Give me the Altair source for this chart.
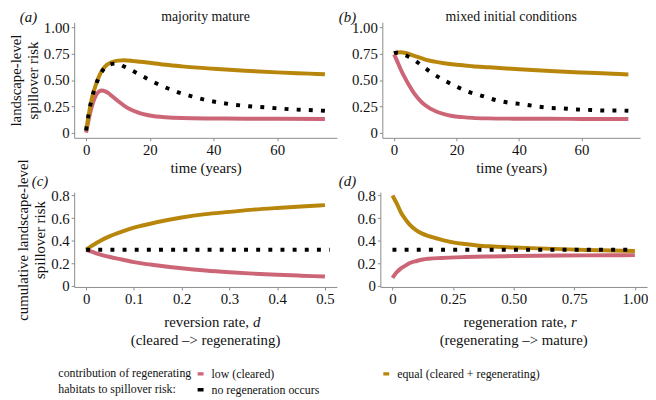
import altair as alt
import pandas as pd

FONT = "Liberation Serif"
PINK = "#CC6677"
GOLD = "#B8860B"
BLACK = "#000000"
TXT = "#111111"

SERIES = ["low (cleared)", "equal (cleared + regenerating)", "no regeneration occurs"]

# ---------- panel (a): majority mature ----------
a_t_gold = [0, 1, 2, 3, 4, 5, 6, 8, 10, 12, 15, 20, 25, 30, 40, 50, 60, 70, 75]
a_gold = [0.02, 0.20, 0.35, 0.45, 0.53, 0.59, 0.63, 0.67, 0.685, 0.688, 0.68, 0.665,
          0.645, 0.63, 0.607, 0.588, 0.573, 0.561, 0.555]
a_t_pink = [0, 1, 2, 3, 4, 5, 6, 7, 8, 10, 12, 14, 16, 18, 20, 25, 30, 40, 50, 60, 75]
a_pink = [0.0, 0.15, 0.27, 0.35, 0.39, 0.40, 0.392, 0.375, 0.35, 0.30, 0.255, 0.22,
          0.195, 0.175, 0.162, 0.145, 0.138, 0.134, 0.132, 0.131, 0.13]
a_t_black = [0, 0.7, 1.6, 2.8, 4.4, 7.6, 9.5, 12.2, 16.3, 20.3, 24.5, 28.7, 33.2, 37.6,
             42.1, 46.6, 51.2, 56, 60.5, 65.1, 69.7, 75]
a_black = [0.02, 0.16, 0.30, 0.43, 0.55, 0.65, 0.657, 0.625, 0.56, 0.495, 0.435, 0.385,
           0.345, 0.31, 0.285, 0.265, 0.25, 0.24, 0.23, 0.22, 0.215, 0.207]

# ---------- panel (b): mixed initial conditions ----------
b_t_gold = [0, 2, 4, 6, 8, 10, 13, 16, 20, 25, 30, 40, 50, 60, 70, 75]
b_gold = [0.755, 0.765, 0.755, 0.735, 0.715, 0.695, 0.675, 0.66, 0.645, 0.632, 0.622,
          0.603, 0.586, 0.572, 0.56, 0.553]
b_t_pink = [0, 1, 2, 3.5, 5, 6.5, 8.5, 10, 13.5, 16, 18.6, 22, 25, 30, 40, 50, 60, 75]
b_pink = [0.745, 0.68, 0.61, 0.52, 0.44, 0.37, 0.30, 0.26, 0.20, 0.175, 0.158, 0.147,
          0.14, 0.135, 0.132, 0.131, 0.13, 0.13]
b_t_black = [0, 0.7, 4.8, 8.6, 12.2, 15.9, 19.8, 24.1, 28.1, 32.4, 36.6, 41.1, 45.5,
             49.9, 54.2, 58.6, 63.1, 67.5, 71.9, 75]
b_black = [0.755, 0.76, 0.72, 0.645, 0.565, 0.50, 0.44, 0.385, 0.35, 0.31, 0.285, 0.27,
           0.25, 0.235, 0.23, 0.22, 0.215, 0.21, 0.21, 0.207]

# ---------- panel (c): reversion rate d ----------
c_d = [0, 0.01, 0.02, 0.03, 0.05, 0.075, 0.1, 0.15, 0.2, 0.25, 0.3, 0.35, 0.4, 0.45, 0.5]
c_gold = [0.32, 0.35, 0.375, 0.40, 0.44, 0.48, 0.515, 0.565, 0.605, 0.635, 0.655, 0.675,
          0.69, 0.703, 0.715]
c_pink = [0.32, 0.305, 0.29, 0.277, 0.255, 0.233, 0.21, 0.18, 0.155, 0.135, 0.12, 0.108,
          0.098, 0.09, 0.082]
c_d_black = [0, 0.51]
c_black = [0.32, 0.32]

# ---------- panel (d): regeneration rate r ----------
d_r_gold = [0, 0.01, 0.02, 0.035, 0.05, 0.07, 0.1, 0.125, 0.15, 0.2, 0.25, 0.3, 0.35,
            0.4, 0.5, 0.6, 0.7, 0.8, 0.9, 1.0]
d_gold = [0.80, 0.76, 0.72, 0.65, 0.60, 0.545, 0.49, 0.46, 0.44, 0.41, 0.385, 0.37,
          0.358, 0.35, 0.34, 0.332, 0.325, 0.318, 0.313, 0.308]
d_r_pink = [0, 0.01, 0.02, 0.035, 0.05, 0.07, 0.1, 0.125, 0.15, 0.2, 0.3, 0.4, 0.5,
            0.6, 0.7, 0.8, 0.9, 1.0]
d_pink = [0.07, 0.10, 0.125, 0.155, 0.175, 0.2, 0.22, 0.233, 0.24, 0.247, 0.255, 0.26,
          0.264, 0.267, 0.269, 0.27, 0.271, 0.272]
d_r_black = [0, 1.0]
d_black = [0.32, 0.32]

# tick values
time_ticks = [0, 20, 40, 60]
top_y_ticks = [0, 0.25, 0.5, 0.75, 1.0]
bot_y_ticks = [0, 0.2, 0.4, 0.6, 0.8]
c_x_ticks = [0, 0.1, 0.2, 0.3, 0.4, 0.5]
d_x_ticks = [0, 0.25, 0.5, 0.75, 1.0]

TOP_W_A, TOP_W_B, TOP_H = 266, 261, 117
BOT_W_C, BOT_W_D, BOT_H = 266, 270, 96


def frame(xs, ys, name):
    return pd.DataFrame({"x": xs, "y": ys, "series": name})


color_scale = alt.Scale(domain=SERIES, range=[PINK, GOLD, BLACK])
legend = alt.Legend(
    orient="none", legendX=-16, legendY=350, columns=2, direction="horizontal",
    title=["contribution of regenerating", "habitats to spillover risk:"],
    titleOrient="left", titleAnchor="start", titleBaseline="top",
    titleFont=FONT, titleFontSize=12, titleFontWeight="normal", titleColor=TXT,
    titleLineHeight=16, titlePadding=3, titleLimit=300,
    labelFont=FONT, labelFontSize=12, labelColor=TXT, labelLimit=300,
    symbolType="stroke", symbolStrokeWidth=3.5, symbolSize=36, symbolDash=[1, 0],
    columnPadding=57, rowPadding=2, labelOffset=5,
)


def lab(fmt):
    return f"datum.value == 0 ? '0' : format(datum.value, '{fmt}')"


def text_layer(txt, x, y, size=15, style="normal", align="center"):
    return alt.Chart(pd.DataFrame({"t": [txt]})).mark_text(
        font=FONT, fontSize=size, fontStyle=style, align=align, baseline="middle",
        color=TXT
    ).encode(text="t:N", x=alt.value(x), y=alt.value(y))


def panel(lines, black, xdom, ydom, xticks, yticks, xfmt, yfmt, xtitle, ytitle,
          w, h, extra):
    xax = alt.Axis(values=xticks, labelExpr=lab(xfmt), title=xtitle)
    yax = alt.Axis(values=yticks, labelExpr=lab(yfmt), title=ytitle)
    x = alt.X("x:Q", scale=alt.Scale(domain=xdom, nice=False, zero=False), axis=xax)
    y = alt.Y("y:Q", scale=alt.Scale(domain=ydom, nice=False, zero=False), axis=yax)
    col = alt.Color("series:N", scale=color_scale, legend=legend)
    base_lines = alt.Chart(lines).mark_line(
        strokeWidth=4, interpolate="monotone", clip=True
    ).encode(x=x, y=y, color=col)
    dots = alt.Chart(black).mark_line(
        strokeWidth=4, interpolate="monotone", strokeDash=[4, 8.3], strokeCap="butt",
        clip=True
    ).encode(x=x, y=y, color=col)
    return alt.layer(base_lines, dots, *extra).properties(width=w, height=h)


pa = panel(pd.concat([frame(a_t_pink, a_pink, SERIES[0]), frame(a_t_gold, a_gold, SERIES[1])]),
           frame(a_t_black, a_black, SERIES[2]),
           [-3.75, 78.75], [-0.05, 1.05], time_ticks, top_y_ticks, "d", ".2f",
           "time (years)", ["landscape-level", "spillover risk"], TOP_W_A, TOP_H,
           [text_layer("(a)", -55, -5, style="italic", align="left"),
            text_layer("majority mature", TOP_W_A / 2, -5, size=14)])
pb = panel(pd.concat([frame(b_t_pink, b_pink, SERIES[0]), frame(b_t_gold, b_gold, SERIES[1])]),
           frame(b_t_black, b_black, SERIES[2]),
           [-3.75, 78.75], [-0.05, 1.05], time_ticks, top_y_ticks, "d", ".2f",
           "time (years)", None, TOP_W_B, TOP_H,
           [text_layer("(b)", -44, -5, style="italic", align="left"),
            text_layer("mixed initial conditions", TOP_W_B / 2, -5, size=14)])
pc = panel(pd.concat([frame(c_d, c_pink, SERIES[0]), frame(c_d, c_gold, SERIES[1])]),
           frame(c_d_black, c_black, SERIES[2]),
           [-0.025, 0.525], [-0.01, 0.83], c_x_ticks, bot_y_ticks, ".1f", ".1f",
           None, ["cumulative landscape-level", "spillover risk"], BOT_W_C, BOT_H,
           [text_layer("(c)", -43, -11, style="italic", align="left"),
            text_layer("reversion rate,", BOT_W_C / 2 + 44, BOT_H + 36, align="right"),
            text_layer("d", BOT_W_C / 2 + 48, BOT_H + 36, style="italic", align="left"),
            text_layer("(cleared \u2013> regenerating)", BOT_W_C / 2, BOT_H + 54)])
pd_ = panel(pd.concat([frame(d_r_pink, d_pink, SERIES[0]), frame(d_r_gold, d_gold, SERIES[1])]),
            frame(d_r_black, d_black, SERIES[2]),
            [-0.05, 1.05], [-0.01, 0.83], d_x_ticks, bot_y_ticks, ".2f", ".1f",
            None, None, BOT_W_D, BOT_H,
            [text_layer("(d)", -42, -11, style="italic", align="left"),
             text_layer("regeneration rate,", BOT_W_D / 2 + 54, BOT_H + 36, align="right"),
             text_layer("r", BOT_W_D / 2 + 58, BOT_H + 36, style="italic", align="left"),
             text_layer("(regenerating \u2013> mature)", BOT_W_D / 2, BOT_H + 54)])

top = alt.hconcat(pa, pb, spacing=2)
bottom = alt.hconcat(pc, pd_, spacing=2)
chart = alt.vconcat(top, bottom, spacing=-17).properties(
    padding={"left": 0, "top": 0, "right": 0, "bottom": 0}
).configure_view(stroke=None).configure_axis(
    grid=False, domainColor="#8a8a8a", tickColor="#8a8a8a", tickSize=3,
    domainWidth=1, tickWidth=1,
    labelFont=FONT, labelFontSize=15, labelColor=TXT, labelPadding=2,
    titleFont=FONT, titleFontSize=15, titleFontWeight="normal", titleColor=TXT,
    titlePadding=3, titleLineHeight=17,
).configure_axisX(labelFlush=False).configure_axisY(labelFlush=False)

chart.save("out.html", embed_options={"renderer": "svg", "actions": False})
